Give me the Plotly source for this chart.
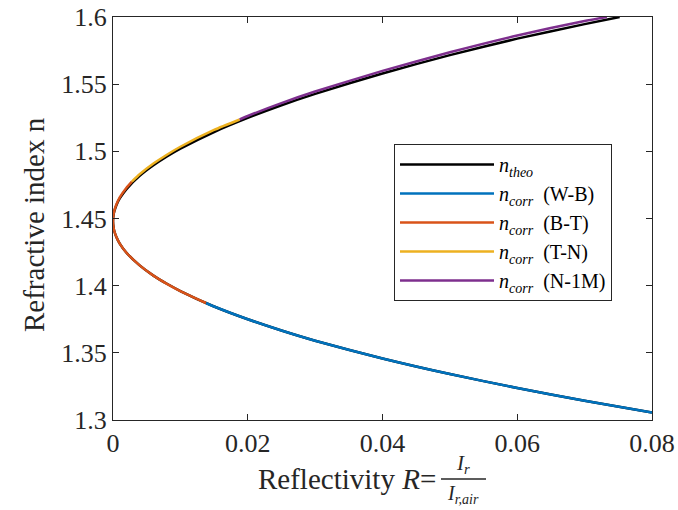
import plotly.graph_objects as go

# ---- data ----
R_theo = [0.0752, 0.07, 0.06, 0.05, 0.04, 0.03, 0.025, 0.02, 0.015, 0.01, 0.008, 0.006, 0.004,
          0.002, 0.001, 0.0005, 0.0002, 0.0001, 0.0, 0.0001, 0.0002, 0.0005, 0.001, 0.002,
          0.004, 0.006, 0.008, 0.01, 0.015, 0.02, 0.025, 0.03, 0.04, 0.05, 0.06, 0.07, 0.08]
n_theo = [1.6000, 1.5947, 1.5839, 1.5716, 1.5580, 1.5428, 1.5343, 1.5249, 1.5144, 1.5020, 1.4962,
          1.4896, 1.4819, 1.4719, 1.4649, 1.4599, 1.4555, 1.4533, 1.4480, 1.4427, 1.4405, 1.4362,
          1.4313, 1.4245, 1.4149, 1.4075, 1.4014, 1.3960, 1.3845, 1.3750, 1.3666, 1.3590, 1.3458,
          1.3342, 1.3238, 1.3143, 1.3055]

R_wb = [0.0138, 0.015, 0.02, 0.025, 0.03, 0.04, 0.05, 0.06, 0.07, 0.08]
n_wb = [1.3871, 1.3845, 1.3750, 1.3666, 1.3590, 1.3458, 1.3342, 1.3238, 1.3143, 1.3055]

R_bt = [0.0138, 0.01, 0.008, 0.006, 0.004, 0.002, 0.001, 0.0005, 0.0002, 0.0001, 0.0,
        0.0001, 0.0002, 0.0005, 0.001, 0.002, 0.0028]
n_bt = [1.3871, 1.3960, 1.4014, 1.4075, 1.4149, 1.4245, 1.4313, 1.4362, 1.4405, 1.4427, 1.4480,
        1.4536, 1.4559, 1.4604, 1.4657, 1.4729, 1.4775]

R_tn = [0.0028, 0.004, 0.006, 0.008, 0.01, 0.015, 0.0188]
n_tn = [1.4775, 1.4831, 1.4909, 1.4975, 1.5034, 1.5159, 1.5237]

R_n1m = [0.0188, 0.02, 0.025, 0.03, 0.04, 0.05, 0.06, 0.07, 0.0733]
n_n1m = [1.5237, 1.5263, 1.5359, 1.5445, 1.5599, 1.5737, 1.5862, 1.5970, 1.6000]

x_ticks = [0, 0.02, 0.04, 0.06, 0.08]
x_ticklabels = ["0", "0.02", "0.04", "0.06", "0.08"]
y_ticks = [1.3, 1.35, 1.4, 1.45, 1.5, 1.55, 1.6]
y_ticklabels = ["1.3", "1.35", "1.4", "1.45", "1.5", "1.55", "1.6"]

series = [
    (R_theo, n_theo, "<i>n</i><sub><i>theo</i></sub>", "#000000"),
    (R_wb, n_wb, "<i>n</i><sub><i>corr</i></sub>  (W-B)", "#0072BD"),
    (R_bt, n_bt, "<i>n</i><sub><i>corr</i></sub>  (B-T)", "#D95319"),
    (R_tn, n_tn, "<i>n</i><sub><i>corr</i></sub>  (T-N)", "#EDB120"),
    (R_n1m, n_n1m, "<i>n</i><sub><i>corr</i></sub>  (N-1M)", "#7E2F8E"),
]

FONT = "Liberation Serif"
AX = "#262626"

fig = go.Figure()
for xs, ys, name, col in series:
    fig.add_trace(go.Scatter(x=xs, y=ys, mode="lines", name=name,
                             line=dict(color=col, width=2.5, shape="spline", smoothing=0.6)))

L, R_, T, B = 113, 26, 17, 90
W, H = 678, 510
pw, ph = W - L - R_, H - T - B

def px(xp):
    return (xp - L) / pw

def py(yp):
    return (H - B - yp) / ph

axis_common = dict(showline=True, linecolor=AX, linewidth=1.3, mirror="ticks",
                   ticks="inside", ticklen=6, tickwidth=1.3, tickcolor=AX,
                   showgrid=False, zeroline=False, automargin=False,
                   tickfont=dict(family=FONT, size=26, color=AX))

fig.update_layout(
    width=W, height=H,
    margin=dict(l=L, r=R_, t=T, b=B, autoexpand=False),
    paper_bgcolor="white", plot_bgcolor="white",
    showlegend=True,
    legend=dict(x=px(394), y=py(144), xanchor="left", yanchor="top",
                bgcolor="white", bordercolor=AX, borderwidth=1,
                font=dict(family=FONT, size=20, color="#000"),
                itemwidth=94, tracegroupgap=0),
    xaxis=dict(range=[0, 0.08], tickvals=x_ticks, ticktext=x_ticklabels, **axis_common),
    yaxis=dict(range=[1.3, 1.6], tickvals=y_ticks, ticktext=y_ticklabels, **axis_common),
)

# axis titles (x title contains a fraction, built from text pieces)
fig.add_annotation(text="Refractive index n", xref="paper", yref="paper",
                   x=px(34), y=py(225), xanchor="center", yanchor="middle",
                   textangle=-90, showarrow=False,
                   font=dict(family=FONT, size=29, color=AX))
fig.add_annotation(text="Reflectivity <i>R</i>=", xref="paper", yref="paper",
                   x=px(438), y=py(479), xanchor="right", yanchor="middle", showarrow=False,
                   font=dict(family=FONT, size=29, color=AX))
fig.add_annotation(text="<i>I</i><sub><i>r</i></sub>", xref="paper", yref="paper",
                   x=px(463), y=py(479), xanchor="center", yanchor="bottom", showarrow=False,
                   font=dict(family=FONT, size=21, color=AX))
fig.add_annotation(text="<i>I</i><sub><i>r,air</i></sub>", xref="paper", yref="paper",
                   x=px(463), y=py(480), xanchor="center", yanchor="top", showarrow=False,
                   font=dict(family=FONT, size=20, color=AX))
fig.add_shape(type="line", xref="paper", yref="paper",
              x0=px(441), x1=px(486), y0=py(479), y1=py(479),
              line=dict(color=AX, width=1.3))

fig.write_html("out.html")
